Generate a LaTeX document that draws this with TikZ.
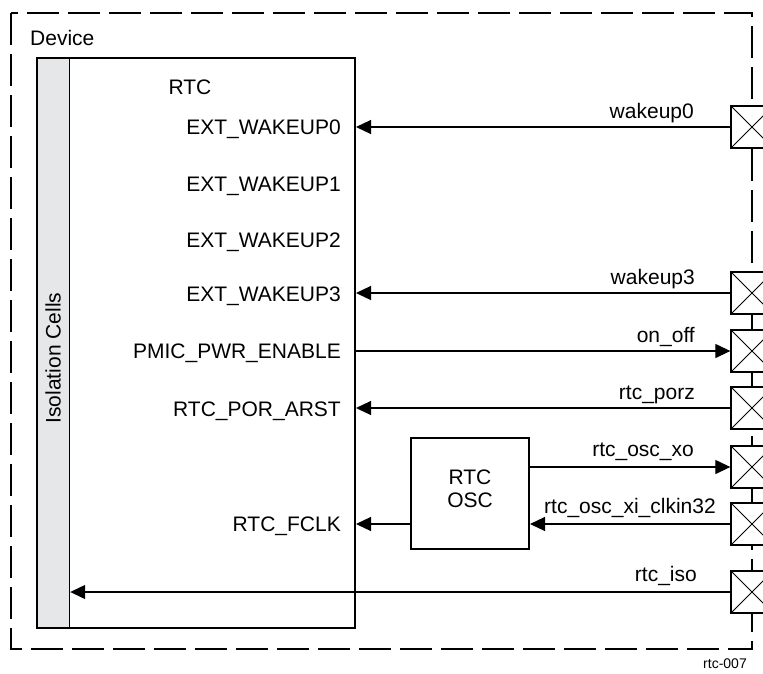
\documentclass[tikz,border=0pt]{standalone}
\usepackage{fontspec}
\setmainfont{Liberation Sans}
\usetikzlibrary{positioning,arrows.meta}
\definecolor{isogray}{RGB}{230,231,233}

\begin{document}
\begin{tikzpicture}[x=1pt, y=-1pt, every node/.style={font=\fontsize{21}{23.5}\selectfont, inner sep=0pt}]
  \tikzset{
    blockbox/.style={draw, line width=2pt},
    padcell/.style={draw, fill=white, line width=1.3pt, minimum width=42pt, minimum height=42pt,
      path picture={\draw[line width=0.8pt] (path picture bounding box.south west) -- (path picture bounding box.north east)
        (path picture bounding box.north west) -- (path picture bounding box.south east);}},
    sig/.style={line width=1.2pt},
    sigarrow/.style={sig, -{Triangle[length=15pt, width=14pt]}},
    pinlabel/.style={anchor=base east},
    netlabel/.style={anchor=base east}
  }
  \useasboundingbox (0,0) rectangle (763,673);

  % --- device outline ---
  \draw[line width=2.5pt, dash pattern=on 32pt off 9pt] (11,13) rectangle (752,649);
  \node[anchor=west] (device) at (30,37.5) {Device};
  \node[font=\fontsize{14}{16}\selectfont, anchor=base east] (figid) at (747,668) {rtc-007};

  % --- RTC block with isolation strip ---
  \node[draw, fill=isogray, line width=1.2pt, minimum width=33pt, minimum height=570pt, anchor=north west] (iso) at (36,57) {};
  \node[blockbox, minimum width=318pt, minimum height=570pt, anchor=north west] (rtc) at (36,57) {};
  \node[rotate=90] (isotext) at (iso.center |- 0,358) {Isolation Cells};
  \node (rtctitle) at (190,87) {RTC};
  \foreach \txt/\y in {EXT\_WAKEUP0/127, EXT\_WAKEUP1/184, EXT\_WAKEUP2/240, EXT\_WAKEUP3/294,
                       PMIC\_PWR\_ENABLE/351, RTC\_POR\_ARST/409, RTC\_FCLK/524} {
    \node[pinlabel] at (341,\y+7.5) {\txt};
  }

  % --- oscillator ---
  \node[blockbox, minimum width=118pt, minimum height=111pt, anchor=north west] (osc) at (410,437) {};
  \node[align=center] (osctext) at ([yshift=4.5pt]osc.center) {RTC\\OSC};

  % --- pads on the device edge ---
  \foreach \name/\y in {p0/127, p3/293, pon/351, pporz/408, pxo/467, pxi/524, piso/592} {
    \node[padcell] (\name) at (752,\y) {};
  }

  % --- signals ---
  \draw[sigarrow] (p0.west) -- (p0.west -| rtc.east);
  \draw[sigarrow] (p3.west) -- (p3.west -| rtc.east);
  \draw[sigarrow] (pon.west -| rtc.east) -- (pon.west);
  \draw[sigarrow] (pporz.west) -- (pporz.west -| rtc.east);
  \draw[sigarrow] (pxo.west -| osc.east) -- (pxo.west);
  \draw[sigarrow] (pxi.west) -- (pxi.west -| osc.east);
  \draw[sigarrow] (osc.west |- pxi.west) -- (pxi.west -| rtc.east);
  \draw[sigarrow] (piso.west) -- (piso.west -| iso.east);

  \node[netlabel] at (694,118) {wakeup0};
  \node[netlabel] at (695,284) {wakeup3};
  \node[netlabel] at (695,342) {on\_off};
  \node[netlabel] at (695,399) {rtc\_porz};
  \node[netlabel] at (694,456) {rtc\_osc\_xo};
  \node[netlabel] at (716,513) {rtc\_osc\_xi\_clkin32};
  \node[netlabel] at (697,581) {rtc\_iso};
\end{tikzpicture}
\end{document}
